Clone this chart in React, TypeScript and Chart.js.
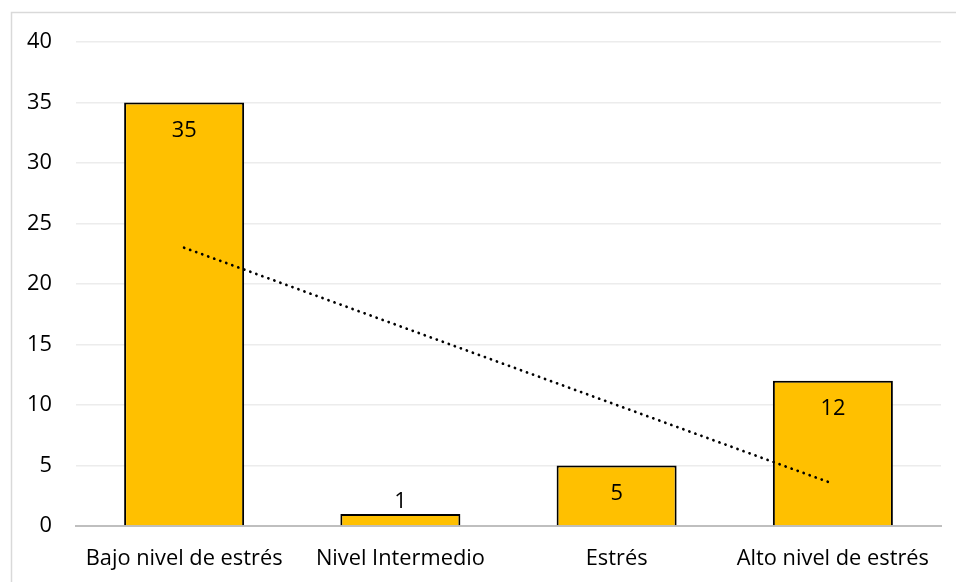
import React, { useEffect, useRef } from "react";
import { Chart, registerables } from "chart.js";

Chart.register(...registerables);

const categories = [
  "Bajo nivel de estrés",
  "Nivel Intermedio",
  "Estrés",
  "Alto nivel de estrés",
];
const counts = [35, 1, 5, 12];
const yTicks = [0, 5, 10, 15, 20, 25, 30, 35, 40];

// Least-squares linear trend over the category positions 1..n
function linearTrend(values: number[]): number[] {
  const n = values.length;
  const xs = values.map((_, i) => i + 1);
  const mx = xs.reduce((a, b) => a + b, 0) / n;
  const my = values.reduce((a, b) => a + b, 0) / n;
  let num = 0;
  let den = 0;
  xs.forEach((x, i) => {
    num += (x - mx) * (values[i] - my);
    den += (x - mx) * (x - mx);
  });
  const slope = num / den;
  return xs.map((x) => my + slope * (x - mx));
}

const FONT = "'Open Sans', 'DejaVu Sans', sans-serif";
const FONT_SIZE = 21.8;

const frame = {
  id: "frame",
  beforeDraw(chart: any) {
    const { ctx } = chart;
    ctx.save();
    ctx.fillStyle = "#ffffff";
    ctx.fillRect(0, 0, chart.width, chart.height);
    ctx.strokeStyle = "#d9d9d9";
    ctx.lineWidth = 1.5;
    ctx.beginPath();
    ctx.moveTo(11.5, chart.height + 2);
    ctx.lineTo(11.5, 12.5);
    ctx.lineTo(chart.width + 2, 12.5);
    ctx.stroke();
    ctx.restore();
  },
};

const barValueLabels = {
  id: "barValueLabels",
  afterDatasetsDraw(chart: any) {
    const { ctx } = chart;
    const meta = chart.getDatasetMeta(0);
    ctx.save();
    ctx.font = `${FONT_SIZE}px ${FONT}`;
    ctx.fillStyle = "#000000";
    ctx.textAlign = "center";
    ctx.textBaseline = "middle";
    meta.data.forEach((bar: any, i: number) => {
      const h = bar.base - bar.y;
      const y = h > 40 ? bar.y + 28 : bar.y - 12;
      ctx.fillText(String(counts[i]), bar.x, y);
    });
    ctx.restore();
  },
};

export default function App() {
  const ref = useRef<HTMLCanvasElement | null>(null);

  useEffect(() => {
    document.body.style.margin = "0";
    if (!ref.current) return;
    const chart = new Chart(ref.current, {
      type: "bar",
      data: {
        labels: categories,
        datasets: [
          {
            type: "bar",
            data: counts,
            backgroundColor: "#FFC000",
            borderColor: "#000000",
            borderWidth: 2,
            categoryPercentage: 1,
            barPercentage: 0.555,
            order: 2,
          },
          {
            type: "line",
            data: linearTrend(counts),
            borderColor: "#000000",
            borderWidth: 2.75,
            borderDash: [0.1, 6.3],
            borderCapStyle: "round",
            pointRadius: 0,
            fill: false,
            order: 1,
          } as any,
        ],
      },
      options: {
        responsive: false,
        animation: false,
        layout: { padding: { left: 0, top: 42, right: 15, bottom: 0 } },
        plugins: {
          legend: { display: false },
          tooltip: { enabled: false },
        },
        scales: {
          x: {
            grid: { display: false, drawTicks: false },
            border: { display: true, color: "#bfbfbf", width: 2 },
            ticks: {
              color: "#000000",
              font: { family: FONT, size: FONT_SIZE },
              padding: 20,
              maxRotation: 0,
              autoSkip: false,
            },
            afterFit: (s: any) => {
              s.height = 56;
            },
          },
          y: {
            min: 0,
            max: 40,
            afterBuildTicks: (s: any) => {
              s.ticks = yTicks.map((v) => ({ value: v }));
            },
            grid: { color: "#ececec", lineWidth: 1.5, drawTicks: false },
            border: { display: false },
            ticks: {
              color: "#000000",
              font: { family: FONT, size: FONT_SIZE },
              padding: 24,
            },
            afterFit: (s: any) => {
              s.width = 76;
            },
          },
        },
      },
      plugins: [frame, barValueLabels],
    });
    return () => chart.destroy();
  }, []);

  return <canvas ref={ref} width={956} height={582} style={{ display: "block" }} />;
}
